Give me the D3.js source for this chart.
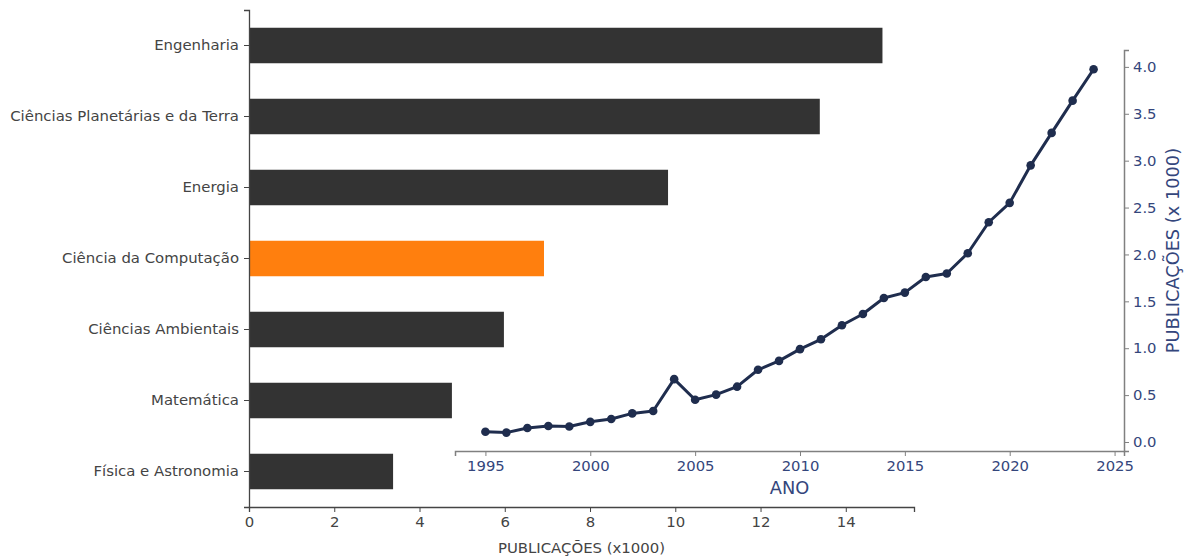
<!DOCTYPE html>
<html>
<head>
<meta charset="utf-8">
<script src="https://cdn.jsdelivr.net/npm/d3@7"></script>
<style>
  html, body { margin: 0; padding: 0; background: #fff; }
  svg { display: block; font-family: "DejaVu Sans", sans-serif; }
</style>
</head>
<body>
<svg id="chart" width="1184" height="557"></svg>
<script>
// Publications by subject area (thousands)
const areas = [
  "Engenharia",
  "Ciências Planetárias e da Terra",
  "Energia",
  "Ciência da Computação",
  "Ciências Ambientais",
  "Matemática",
  "Física e Astronomia"
];
const areaTotals = [14.86, 13.39, 9.83, 6.92, 5.98, 4.76, 3.38];
const highlightArea = "Ciência da Computação";
const barTicks = [0, 2, 4, 6, 8, 10, 12, 14];

// Yearly publications (thousands)
const years = [1995, 1996, 1997, 1998, 1999, 2000, 2001, 2002, 2003, 2004,
               2005, 2006, 2007, 2008, 2009, 2010, 2011, 2012, 2013, 2014,
               2015, 2016, 2017, 2018, 2019, 2020, 2021, 2022, 2023, 2024];
const yearly = [0.11, 0.10, 0.15, 0.17, 0.165, 0.215, 0.245, 0.305, 0.33, 0.67,
                0.45, 0.505, 0.59, 0.77, 0.865, 0.99, 1.095, 1.245, 1.365, 1.535,
                1.593, 1.76, 1.797, 2.013, 2.343, 2.55, 2.95, 3.296, 3.64, 3.975];
const yearTicks = [1995, 2000, 2005, 2010, 2015, 2020, 2025];
const yearlyTicks = [0, 0.5, 1.0, 1.5, 2.0, 2.5, 3.0, 3.5, 4.0];

const svg = d3.select("#chart");

// ---- Main horizontal bar chart ----
const main = { left: 249, right: 914, top: 10, bottom: 507 };
const x = d3.scaleLinear().domain([0, 15.6]).range([main.left, main.right]);
const y = d3.scaleBand().domain(areas).range([main.top, main.bottom])
  .paddingInner(0.5).paddingOuter(0.25);

const gMain = svg.append("g");
gMain.selectAll("rect.bar")
  .data(areas)
  .join("rect")
  .attr("class", "bar")
  .attr("x", x(0))
  .attr("y", d => y(d))
  .attr("width", (d, i) => x(areaTotals[i]) - x(0))
  .attr("height", y.bandwidth())
  .attr("fill", d => d === highlightArea ? "#ff7f0e" : "#333333");

const axisGray = "#444444";
const xAxis = gMain.append("g")
  .attr("transform", `translate(0,${main.bottom})`)
  .call(d3.axisBottom(x).tickValues(barTicks).tickFormat(d3.format("d")).tickSizeOuter(0).tickSize(5).tickPadding(4));
const yAxis = gMain.append("g")
  .attr("transform", `translate(${main.left},0)`)
  .call(d3.axisLeft(y).tickSizeOuter(0).tickSize(5).tickPadding(5));
[xAxis, yAxis].forEach(a => {
  a.select(".domain").attr("stroke", axisGray).attr("stroke-width", 1.3);
  a.selectAll(".tick line").attr("stroke", axisGray);
  a.selectAll(".tick text").attr("fill", axisGray).style("font-size", "14.9px")
    .style("font-family", "'DejaVu Sans', sans-serif");
});
gMain.append("text")
  .attr("x", (main.left + main.right) / 2)
  .attr("y", 553)
  .attr("text-anchor", "middle")
  .attr("fill", axisGray)
  .style("font-size", "14.9px")
  .text("PUBLICAÇÕES (x1000)");

// ---- Inset: yearly publications ----
const inset = { left: 455, right: 1124, top: 50, bottom: 451 };
const navy = "#1f2d4e";
const inkBlue = "#34467c";
const spineGray = "#808080";
const xi = d3.scaleLinear().domain([1993.55, 2025.45]).range([inset.left, inset.right]);
const yi = d3.scaleLinear().domain([-0.096, 4.18]).range([inset.bottom, inset.top]);

const gIn = svg.append("g");
const series = years.map((yr, i) => ({ yr, v: yearly[i] }));
gIn.append("path")
  .datum(series)
  .attr("fill", "none")
  .attr("stroke", navy)
  .attr("stroke-width", 3)
  .attr("stroke-linejoin", "round")
  .attr("d", d3.line().x(d => xi(d.yr)).y(d => yi(d.v)));
gIn.selectAll("circle.pt")
  .data(series)
  .join("circle")
  .attr("class", "pt")
  .attr("cx", d => xi(d.yr))
  .attr("cy", d => yi(d.v))
  .attr("r", 4.3)
  .attr("fill", navy);

const xiAxis = gIn.append("g")
  .attr("transform", `translate(0,${inset.bottom})`)
  .call(d3.axisBottom(xi).tickValues(yearTicks).tickFormat(d3.format("d")).tickSizeOuter(0).tickSize(5).tickPadding(4));
const yiAxis = gIn.append("g")
  .attr("transform", `translate(${inset.right},0)`)
  .call(d3.axisRight(yi).tickValues(yearlyTicks).tickFormat(d3.format(".1f")).tickSizeOuter(0).tickSize(5).tickPadding(4));
[xiAxis, yiAxis].forEach(a => {
  a.select(".domain").attr("stroke", spineGray).attr("stroke-width", 1.5);
  a.selectAll(".tick line").attr("stroke", spineGray);
  a.selectAll(".tick text").attr("fill", inkBlue).style("font-size", "14.8px")
    .style("font-family", "'DejaVu Sans', sans-serif");
});
gIn.append("text")
  .attr("x", (inset.left + inset.right) / 2)
  .attr("y", 494)
  .attr("text-anchor", "middle")
  .attr("fill", inkBlue)
  .style("font-size", "17.8px")
  .text("ANO");
gIn.append("text")
  .attr("transform", `translate(1172,${(inset.top + inset.bottom) / 2}) rotate(-90)`)
  .attr("text-anchor", "middle")
  .attr("dominant-baseline", "central")
  .attr("fill", inkBlue)
  .style("font-size", "17.8px")
  .text("PUBLICAÇÕES (x 1000)");
</script>
</body>
</html>
